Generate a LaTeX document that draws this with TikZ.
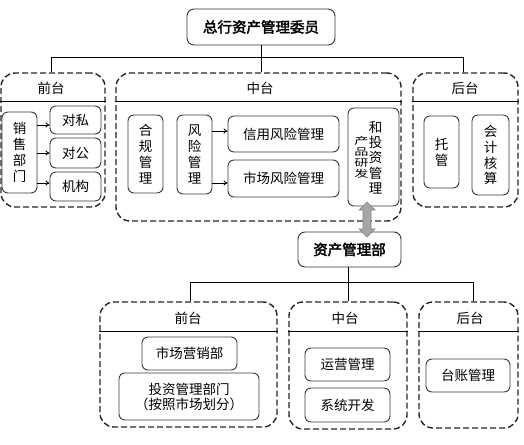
\documentclass[tikz,border=0pt]{standalone}
\usepackage{fontspec}
\usepackage{graphicx}
\setmainfont{Noto Sans CJK SC}[AutoFakeBold=2.5]
\usetikzlibrary{calc,arrows.meta}
\tikzset{
  inbox/.style={draw=black!78, rounded corners=6pt, line width=0.9pt, inner sep=0pt, align=center, font=\fontsize{13.5}{16}\selectfont},
  vbox/.style={inbox, font=\fontsize{13.5}{15.8}\selectfont},
  dbox/.style={draw=black!85, dash pattern=on 6pt off 3pt, line width=1.4pt, rounded corners=14pt, inner sep=0pt},
  hdr/.style={font=\fontsize{13.5}{16}\selectfont, inner sep=0pt},
  title/.style={draw=black!80, rounded corners=7pt, line width=0.9pt, inner sep=0pt, font=\fontsize{14.5}{17}\selectfont\bfseries},
  conn/.style={line width=0.8pt, black},
  arr/.style={conn, -{To[length=4pt,width=5pt]}},
  hline/.style={line width=0.7pt, black},
  garrow/.style={draw=black!50, fill=black!35, line width=0.6pt, line join=miter}
}
\begin{document}
\begin{tikzpicture}[x=1pt,y=-1pt]
\useasboundingbox (0,0) rectangle (524,444);
% top title
\node[title, minimum width=148pt, minimum height=36pt] (top) at (261,27) {总行资产管理委员};
% top dashed groups
\node[dbox, minimum width=104pt, minimum height=134pt] (tf) at (53,140) {};
\node[dbox, minimum width=285pt, minimum height=148pt] (tm) at (258.5,147) {};
\node[dbox, minimum width=105pt, minimum height=134pt] (tb) at (465.5,140) {};
\draw[hline] ($(tf.north west)+(0,29)$) -- ($(tf.north east)+(0,29)$);
\draw[hline] ($(tm.north west)+(0,29)$) -- ($(tm.north east)+(0,29)$);
\draw[hline] ($(tb.north west)+(0,29)$) -- ($(tb.north east)+(0,29)$);
\node[hdr] (tfh) at (51,88) {前台};
\node[hdr] (tmh) at (260,88) {中台};
\node[hdr] (tbh) at (465,88) {后台};
% top tree
\coordinate (tl) at (51,57);
\coordinate (tr) at (463,57);
\draw[conn] (top.south) -- (top.south |- tm.north);
\draw[conn] (tf.north -| tl) -- (tl) -- (tr) -- (tr |- tb.north);
% front
\node[vbox, minimum width=35pt, minimum height=81pt] (xs) at (19.5,152.5) {销\\售\\部\\门};
\node[inbox, minimum width=51pt, minimum height=28pt] (ds) at (75.5,120) {对私};
\node[inbox, minimum width=51pt, minimum height=30pt] (dg) at (75.5,153) {对公};
\node[inbox, minimum width=51pt, minimum height=29pt] (jg) at (75.5,186.5) {机构};
\draw[arr] (xs.east |- 0,125) -- (ds.west |- 0,125);
\draw[arr] (xs.east |- dg.west) -- (dg.west);
\draw[arr] (xs.east |- 0,183) -- (jg.west |- 0,183);
% middle
\node[vbox, minimum width=35pt, minimum height=78pt] (hg) at (145.5,154) {合\\规\\管\\理};
\node[vbox, minimum width=35pt, minimum height=79pt] (fx) at (194.5,154.5) {风\\险\\管\\理};
\node[inbox, minimum width=111pt, minimum height=36pt] (xy) at (283.5,134) {信用风险管理};
\node[inbox, minimum width=111pt, minimum height=37pt] (sc) at (283.5,178.5) {市场风险管理};
\draw[arr] (fx.east |- 0,131) -- (xy.west |- 0,131);
\draw[arr] (fx.east |- 0,183) -- (sc.west |- 0,183);
\node[inbox, minimum width=51pt, minimum height=98pt] (cp) at (373.5,157) {};
\node[inner sep=0pt, align=center, font=\fontsize{13.5}{15.3}\selectfont] (cpr) at (375.5,157.5) {和\\投\\资\\管\\理};
\node[inner sep=0pt, align=center] (cpl) at (361.5,157) {\scalebox{1.05}[0.72]{\parbox{15pt}{\centering\fontsize{13.5}{15.3}\selectfont 产\\品\\研\\发}}};
% back
\node[vbox, minimum width=35pt, minimum height=72pt] (tg) at (441.5,152) {托\\管};
\node[vbox, minimum width=37pt, minimum height=80pt] (kj) at (490.5,155) {会\\计\\核\\算};
% asset dept
\node[title, minimum width=103pt, minimum height=35pt] (zc) at (349.5,249.5) {资产管理部};
% gray double arrow between cp and zc
\coordinate (gat) at (367,202);
\coordinate (gab) at (367,237);
\draw[garrow] (gat) -- ($(gat)+(8,8)$) -- ($(gat)+(4,8)$) -- ($(gab)+(4,-8)$) -- ($(gab)+(8,-8)$) -- (gab)
  -- ($(gab)+(-8,-8)$) -- ($(gab)+(-4,-8)$) -- ($(gat)+(-4,8)$) -- ($(gat)+(-8,8)$) -- cycle;
% bottom dashed groups
\node[dbox, minimum width=177pt, minimum height=125pt] (bf) at (188.5,364.5) {};
\node[dbox, minimum width=118pt, minimum height=127pt] (bm) at (348,365.5) {};
\node[dbox, minimum width=99pt, minimum height=126pt] (bb) at (468.5,365) {};
\draw[hline] ($(bf.north west)+(0,30)$) -- ($(bf.north east)+(0,30)$);
\draw[hline] ($(bm.north west)+(0,30)$) -- ($(bm.north east)+(0,30)$);
\draw[hline] ($(bb.north west)+(0,30)$) -- ($(bb.north east)+(0,30)$);
\node[hdr] (bfh) at (188,318) {前台};
\node[hdr] (bmh) at (345,318) {中台};
\node[hdr] (bbh) at (470,318) {后台};
% bottom tree
\coordinate (bl) at (190,282);
\coordinate (br) at (473,282);
\draw[conn] (zc.south -| bm.north) -- (bm.north);
\draw[conn] (bf.north -| bl) -- (bl) -- (br) -- (br |- bb.north);
% bottom boxes
\node[inbox, minimum width=95pt, minimum height=33pt] (yx) at (189.5,353.5) {市场营销部};
\node[inbox, minimum width=140pt, minimum height=47pt, font=\fontsize{13.5}{15}\selectfont] (tz) at (189,396.5) {投资管理部门\\（按照市场划分）};
\node[inbox, minimum width=85pt, minimum height=33pt] (yy) at (347.5,364.5) {运营管理};
\node[inbox, minimum width=85pt, minimum height=34pt] (xt) at (347.5,405) {系统开发};
\node[inbox, minimum width=84pt, minimum height=33pt] (tz2) at (468,375.5) {台账管理};
\end{tikzpicture}
\end{document}
